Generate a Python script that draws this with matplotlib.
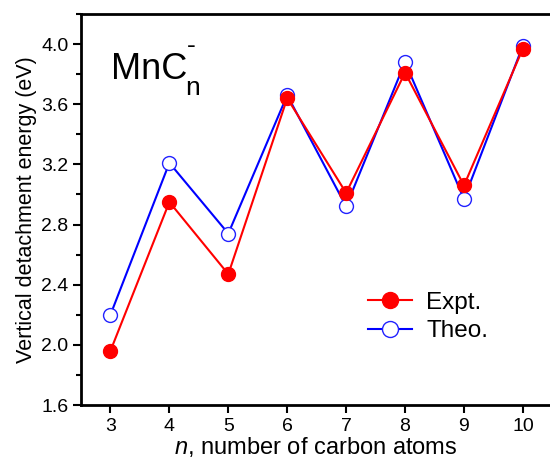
import matplotlib
matplotlib.use("Agg")
import matplotlib.pyplot as plt
from matplotlib.ticker import MultipleLocator

plt.rcParams['font.family'] = ['Liberation Sans', 'DejaVu Sans']
plt.rcParams['mathtext.fontset'] = 'custom'
plt.rcParams['mathtext.it'] = 'Liberation Sans:italic'
plt.rcParams['mathtext.rm'] = 'Liberation Sans'

n = [3, 4, 5, 6, 7, 8, 9, 10]
expt = [1.96, 2.95, 2.47, 3.64, 3.01, 3.81, 3.06, 3.97]
theo = [2.20, 3.21, 2.74, 3.66, 2.92, 3.88, 2.97, 3.99]

fig = plt.figure(figsize=(5.5, 4.61), dpi=100)
ax = fig.add_axes([81/550, 1-405/461, 1-81/550, (405-14)/461])

ax.plot(n, theo, color='#0000ff', lw=1.5, marker='o', ms=10, mfc='white',
        mec='#2222ff', mew=1.0, label='Theo.', zorder=2)
ax.plot(n, expt, color='#ff0000', lw=1.5, marker='o', ms=10, mfc='#ff0000',
        mec='#ff0000', label='Expt.', zorder=3)

ax.set_xlim(2.5, 10.46)
ax.set_ylim(1.6, 4.2)
ax.set_xticks(n)
ax.yaxis.set_major_locator(MultipleLocator(0.4))
ax.yaxis.set_minor_locator(MultipleLocator(0.2))
ax.set_yticklabels([f"{v:.1f}" for v in ax.get_yticks()])
ax.tick_params(axis='both', which='major', direction='out', length=6, width=1.5,
               labelsize=14, pad=3, top=False, right=False)
ax.tick_params(axis='y', which='minor', direction='out', length=3.5, width=1.5)
for s in ['left', 'bottom', 'top']:
    ax.spines[s].set_linewidth(2)
ax.spines['right'].set_visible(False)

ax.set_xlabel('$n$, number of carbon atoms', fontsize=17, labelpad=0)
ax.set_ylabel('Vertical detachment energy (eV)', fontsize=15.5, labelpad=3)

ax.text(0.065, 0.835, 'MnC', transform=ax.transAxes, fontsize=26)
ax.text(0.222, 0.792, 'n', transform=ax.transAxes, fontsize=19)
ax.text(0.226, 0.9, '-', transform=ax.transAxes, fontsize=19)

handles, labels = ax.get_legend_handles_labels()
leg = ax.legend(handles[::-1], labels[::-1], loc='upper left',
                bbox_to_anchor=(0.565, 0.345), frameon=False, fontsize=17.5,
                handlelength=1.8, handletextpad=0.6, labelspacing=0.25,
                markerscale=1.15)

fig.savefig('out.png', dpi=100)
